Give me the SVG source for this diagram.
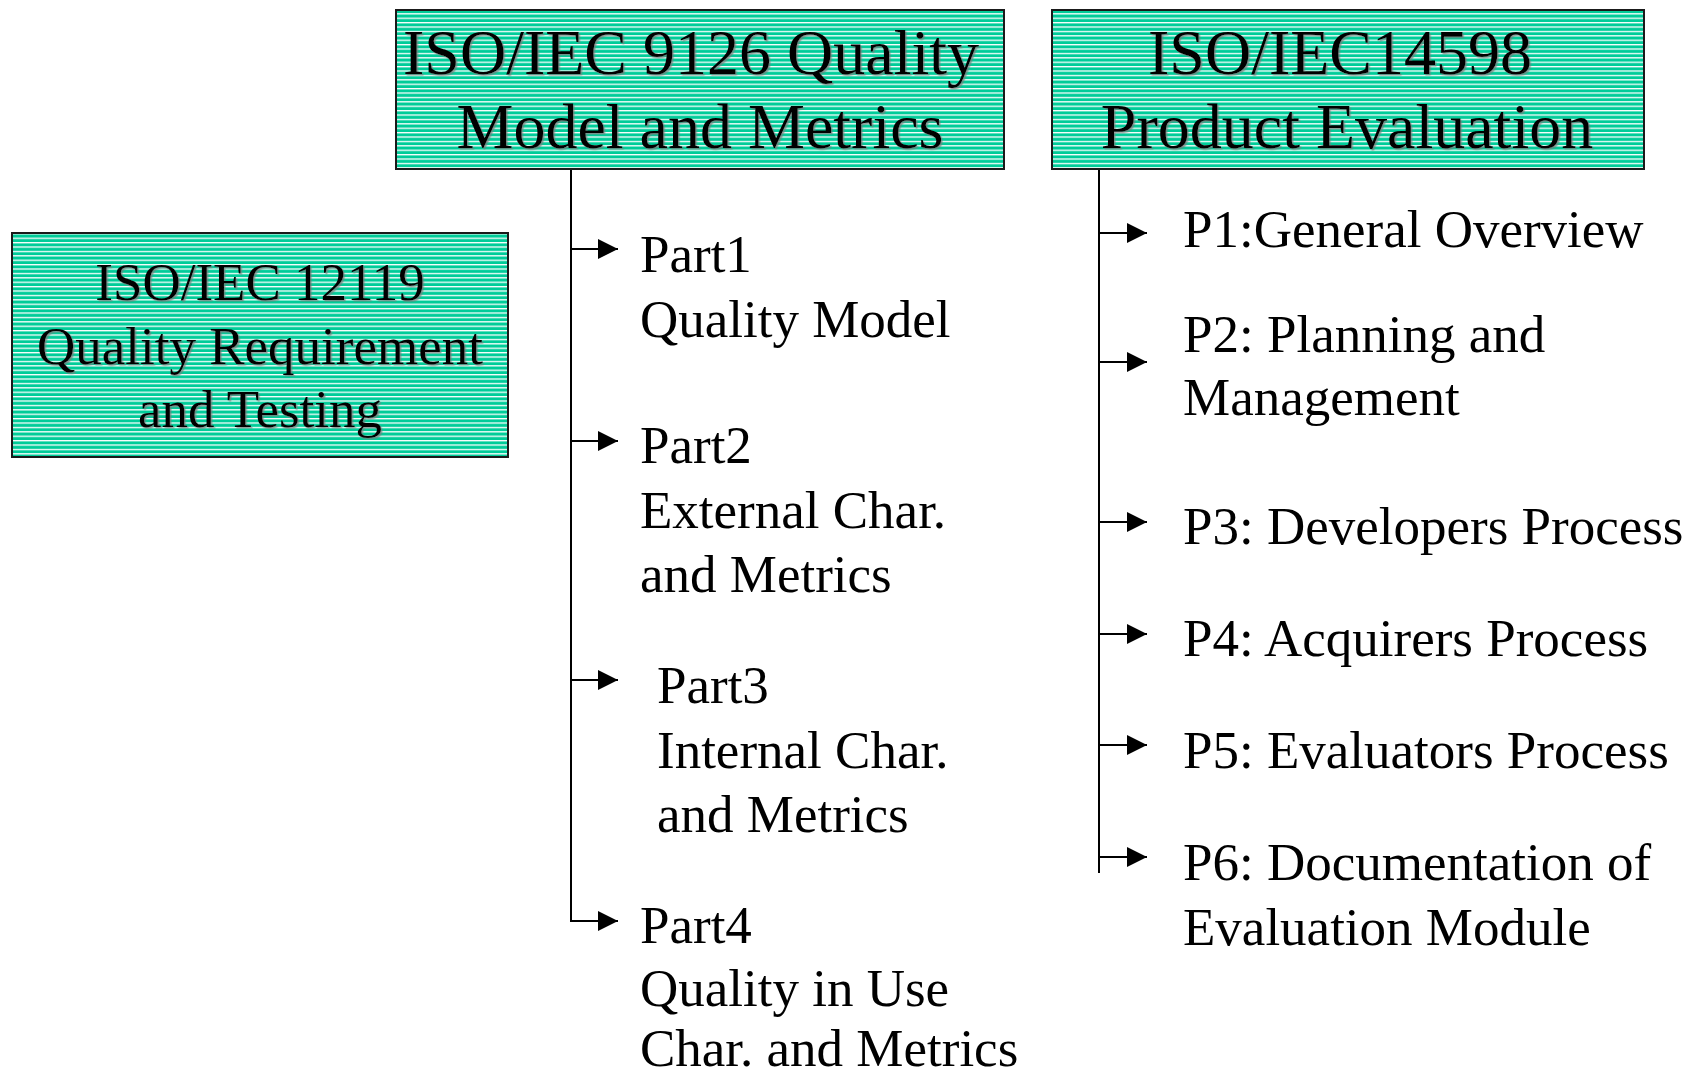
<svg xmlns="http://www.w3.org/2000/svg" width="1697" height="1077" viewBox="0 0 1697 1077">
<style>
.box{fill:url(#hatch);stroke:#1a1a1a;stroke-width:2}
.title{font-family:"Liberation Serif","Times New Roman",serif;font-size:64px;fill:#000;text-anchor:middle;filter:url(#shadow)}
.sub{font-family:"Liberation Serif","Times New Roman",serif;font-size:53px;fill:#000;text-anchor:middle;filter:url(#shadow)}
.item{font-family:"Liberation Serif","Times New Roman",serif;font-size:53px;fill:#000}
.wire{fill:none;stroke:#000;stroke-width:2}
.arr{fill:none;stroke:#000;stroke-width:2;marker-end:url(#ah)}
</style>
<defs>
<pattern id="hatch" x="0" y="0" width="8" height="4.4" patternUnits="userSpaceOnUse">
<rect width="8" height="4.4" fill="#00CC99"/>
<rect y="0" width="8" height="1.3" fill="#ffffff"/>
</pattern>
<filter id="shadow" x="-5%" y="-20%" width="110%" height="140%">
<feDropShadow dx="1.5" dy="1.5" stdDeviation="0.3" flood-color="#7a7a7a" flood-opacity="0.7"/>
</filter>
<marker id="ah" markerUnits="userSpaceOnUse" markerWidth="21" markerHeight="21" refX="20" refY="10" orient="auto">
<path d="M0,0 L20,10 L0,20 Z" fill="#000"/>
</marker>
</defs>

<g id="connectors">
<path class="wire" d="M571,169 V922"/>
<path class="arr" d="M571,249 H618"/>
<path class="arr" d="M571,441 H618"/>
<path class="arr" d="M571,680 H618"/>
<path class="arr" d="M571,921 H618"/>
<path class="wire" d="M1099,169 V873"/>
<path class="arr" d="M1099,233 H1147"/>
<path class="arr" d="M1099,362 H1147"/>
<path class="arr" d="M1099,522 H1147"/>
<path class="arr" d="M1099,634 H1147"/>
<path class="arr" d="M1099,745 H1147"/>
<path class="arr" d="M1099,857 H1147"/>
</g>

<g id="iso9126">
<rect class="box" x="396" y="10" width="608" height="159"/>
<text class="title" x="691" y="74">ISO/IEC 9126 Quality</text>
<text class="title" x="700" y="148">Model and Metrics</text>
</g>

<g id="iso14598">
<rect class="box" x="1052" y="10" width="592" height="159"/>
<text class="title" x="1340" y="74">ISO/IEC14598</text>
<text class="title" x="1347" y="148">Product Evaluation</text>
</g>

<g id="iso12119">
<rect class="box" x="12" y="233" width="496" height="224"/>
<text class="sub" x="260" y="300">ISO/IEC 12119</text>
<text class="sub" x="260" y="364">Quality Requirement</text>
<text class="sub" x="260" y="427">and Testing</text>
</g>

<g id="part1">
<text class="item" x="640" y="272">Part1</text>
<text class="item" x="640" y="337">Quality Model</text>
</g>
<g id="part2">
<text class="item" x="640" y="463">Part2</text>
<text class="item" x="640" y="528">External Char.</text>
<text class="item" x="640" y="592">and Metrics</text>
</g>
<g id="part3">
<text class="item" x="657" y="703">Part3</text>
<text class="item" x="657" y="768">Internal Char.</text>
<text class="item" x="657" y="832">and Metrics</text>
</g>
<g id="part4">
<text class="item" x="640" y="943">Part4</text>
<text class="item" x="640" y="1006">Quality in Use</text>
<text class="item" x="640" y="1066">Char. and Metrics</text>
</g>

<g id="p1"><text class="item" x="1183" y="247">P1:General Overview</text></g>
<g id="p2">
<text class="item" x="1183" y="352">P2: Planning and</text>
<text class="item" x="1183" y="415">Management</text>
</g>
<g id="p3"><text class="item" x="1183" y="544">P3: Developers Process</text></g>
<g id="p4"><text class="item" x="1183" y="656">P4: Acquirers Process</text></g>
<g id="p5"><text class="item" x="1183" y="768">P5: Evaluators Process</text></g>
<g id="p6">
<text class="item" x="1183" y="880">P6: Documentation of</text>
<text class="item" x="1183" y="945">Evaluation Module</text>
</g>
</svg>
